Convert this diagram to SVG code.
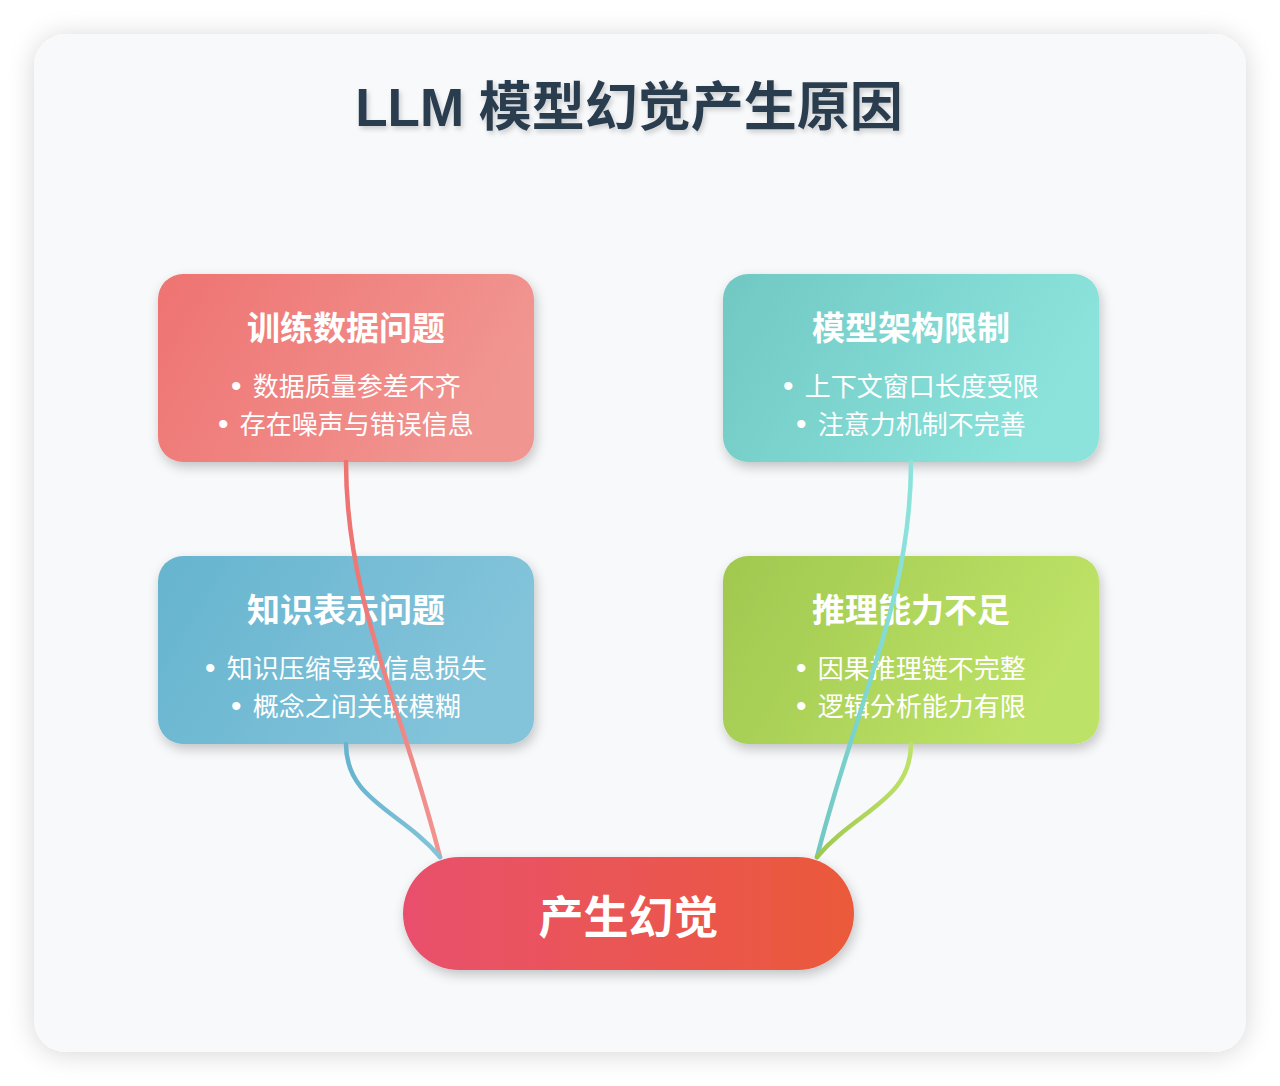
<svg xmlns="http://www.w3.org/2000/svg" width="1280" height="1086" viewBox="0 0 1280 1086">
  <defs>
    <linearGradient id="gRed" x1="0" y1="0" x2="1" y2="0.3">
      <stop offset="0" stop-color="#ee7371"/>
      <stop offset="1" stop-color="#f19591"/>
    </linearGradient>
    <linearGradient id="gTeal" x1="0" y1="0" x2="1" y2="0.3">
      <stop offset="0" stop-color="#71c8c3"/>
      <stop offset="1" stop-color="#8be3dc"/>
    </linearGradient>
    <linearGradient id="gBlue" x1="0" y1="0" x2="1" y2="0.3">
      <stop offset="0" stop-color="#66b4cf"/>
      <stop offset="1" stop-color="#83c4da"/>
    </linearGradient>
    <linearGradient id="gGreen" x1="0" y1="0" x2="1" y2="0.3">
      <stop offset="0" stop-color="#a0c84f"/>
      <stop offset="1" stop-color="#bde267"/>
    </linearGradient>
    <linearGradient id="gPill" x1="0" y1="0" x2="1" y2="0">
      <stop offset="0" stop-color="#e9506d"/>
      <stop offset="1" stop-color="#eb5a3a"/>
    </linearGradient>
    <linearGradient id="cRed" x1="0" y1="0" x2="1" y2="0">
      <stop offset="0" stop-color="#ee7371"/>
      <stop offset="1" stop-color="#f19591"/>
    </linearGradient>
    <linearGradient id="cTeal" x1="0" y1="0" x2="1" y2="0">
      <stop offset="0" stop-color="#71c8c3"/>
      <stop offset="1" stop-color="#8be3dc"/>
    </linearGradient>
    <linearGradient id="cBlue" x1="0" y1="0" x2="1" y2="0">
      <stop offset="0" stop-color="#66b4cf"/>
      <stop offset="1" stop-color="#83c4da"/>
    </linearGradient>
    <linearGradient id="cGreen" x1="0" y1="0" x2="1" y2="0">
      <stop offset="0" stop-color="#a0c84f"/>
      <stop offset="1" stop-color="#bde267"/>
    </linearGradient>
    <filter id="cardShadow" x="-10%" y="-10%" width="120%" height="120%">
      <feDropShadow dx="0" dy="2" stdDeviation="13" flood-color="#000" flood-opacity="0.16"/>
    </filter>
    <filter id="nodeShadow" x="-15%" y="-20%" width="130%" height="150%">
      <feDropShadow dx="2" dy="5" stdDeviation="6" flood-color="#000" flood-opacity="0.22"/>
    </filter>
    <filter id="textShadow" x="-10%" y="-30%" width="120%" height="160%">
      <feDropShadow dx="2" dy="3" stdDeviation="2.5" flood-color="#000" flood-opacity="0.18"/>
    </filter>
  </defs>
  <style>
    text { font-family: "Liberation Sans", "Noto Sans CJK SC", sans-serif; }
    .title { font-size: 53px; font-weight: 700; fill: #2c3e50; text-anchor: middle; }
    .nt { font-size: 33px; font-weight: 700; fill: #ffffff; text-anchor: middle; }
    .nb { font-size: 26px; font-weight: 400; fill: #ffffff; text-anchor: middle; }
    .bul { font-size: 30px; }
    .pt { font-size: 45px; font-weight: 700; fill: #ffffff; text-anchor: middle; }
    .conn { fill: none; stroke-width: 4.5; stroke-linecap: round; }
  </style>

  <rect width="1280" height="1086" fill="#ffffff"/>
  <rect x="34" y="34" width="1212" height="1018" rx="32" fill="#f8f9fb" filter="url(#cardShadow)"/>

  <text class="title" x="629" y="126" filter="url(#textShadow)">LLM 模型幻觉产生原因</text>

  <g id="node-data">
    <rect x="158" y="274" width="376" height="188" rx="25" fill="url(#gRed)" filter="url(#nodeShadow)"/>
    <text class="nt" x="346" y="340">训练数据问题</text>
    <text class="nb" x="346" y="396"><tspan class="bul">•</tspan> <tspan dx="4">数据质量参差不齐</tspan></text>
    <text class="nb" x="346" y="434"><tspan class="bul">•</tspan> <tspan dx="4">存在噪声与错误信息</tspan></text>
  </g>

  <g id="node-arch">
    <rect x="723" y="274" width="376" height="188" rx="25" fill="url(#gTeal)" filter="url(#nodeShadow)"/>
    <text class="nt" x="911" y="340">模型架构限制</text>
    <text class="nb" x="911" y="396"><tspan class="bul">•</tspan> <tspan dx="4">上下文窗口长度受限</tspan></text>
    <text class="nb" x="911" y="434"><tspan class="bul">•</tspan> <tspan dx="4">注意力机制不完善</tspan></text>
  </g>

  <g id="node-knowledge">
    <rect x="158" y="556" width="376" height="188" rx="25" fill="url(#gBlue)" filter="url(#nodeShadow)"/>
    <text class="nt" x="346" y="622">知识表示问题</text>
    <text class="nb" x="346" y="678"><tspan class="bul">•</tspan> <tspan dx="4">知识压缩导致信息损失</tspan></text>
    <text class="nb" x="346" y="716"><tspan class="bul">•</tspan> <tspan dx="4">概念之间关联模糊</tspan></text>
  </g>

  <g id="node-reasoning">
    <rect x="723" y="556" width="376" height="188" rx="25" fill="url(#gGreen)" filter="url(#nodeShadow)"/>
    <text class="nt" x="911" y="622">推理能力不足</text>
    <text class="nb" x="911" y="678"><tspan class="bul">•</tspan> <tspan dx="4">因果推理链不完整</tspan></text>
    <text class="nb" x="911" y="716"><tspan class="bul">•</tspan> <tspan dx="4">逻辑分析能力有限</tspan></text>
  </g>

  <g id="connectors">
    <path class="conn" stroke="url(#cRed)" d="M346,462 C346,600 400,700 440,857"/>
    <path class="conn" stroke="url(#cBlue)" d="M346,744 C346,800 400,810 440,857"/>
    <path class="conn" stroke="url(#cTeal)" d="M911,462 C911,600 857,700 817,857"/>
    <path class="conn" stroke="url(#cGreen)" d="M911,744 C911,800 857,810 817,857"/>
  </g>

  <g id="node-result">
    <rect x="403" y="857" width="451" height="113" rx="56.5" fill="url(#gPill)" filter="url(#nodeShadow)"/>
    <text class="pt" x="628.5" y="934">产生幻觉</text>
  </g>
</svg>
